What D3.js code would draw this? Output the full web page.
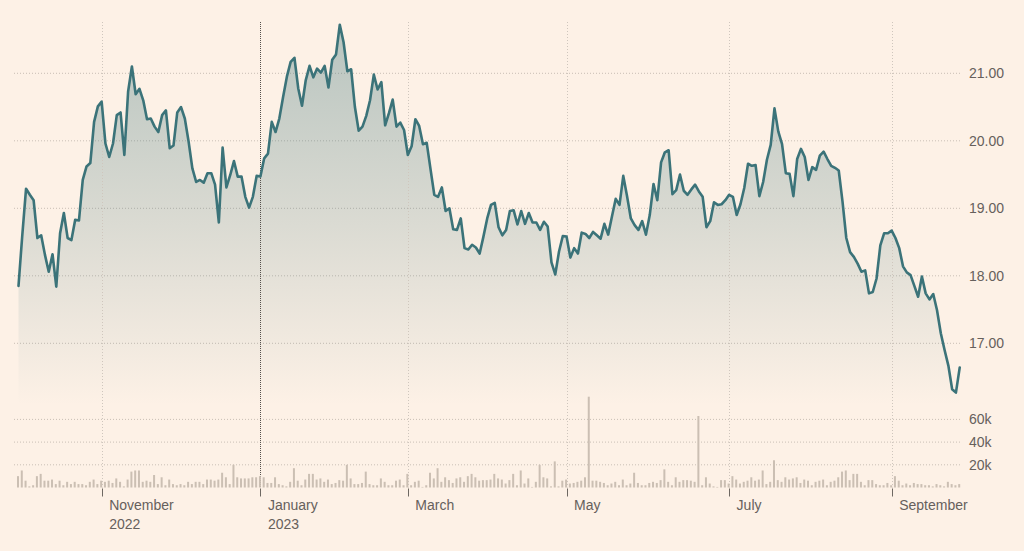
<!DOCTYPE html>
<html>
<head>
<meta charset="utf-8">
<script src="https://cdn.jsdelivr.net/npm/d3@7"></script>
<style>
  html, body { margin: 0; padding: 0; background: #fdf1e6; }
  svg { display: block; }
  text { font-family: "Liberation Sans", Arial, Helvetica, sans-serif; }
</style>
</head>
<body>
<svg id="chart" width="1024" height="551"></svg>
<script>
// ---------- DATA ----------
const startDate = "2022-09-30";
const endDate = "2023-09-28";
const holidays = ["2022-11-24","2022-12-26","2023-01-02","2023-01-16","2023-02-20",
                  "2023-04-07","2023-05-29","2023-06-19","2023-07-04","2023-09-04"];

const prices = [
 17.85,18.60,19.29,19.20,19.12,18.56,18.60,18.31,18.06,18.32,
 17.84,18.63,18.93,18.56,18.53,18.83,18.82,19.42,19.62,19.67,
 20.28,20.51,20.58,19.96,19.76,19.96,20.38,20.42,19.79,20.73,
 21.10,20.69,20.77,20.60,20.32,20.33,20.21,20.13,20.38,20.45,
 19.89,19.93,20.42,20.50,20.33,19.99,19.59,19.39,19.42,19.38,
 19.52,19.52,19.35,18.79,19.90,19.31,19.49,19.70,19.47,19.47,
 19.17,19.01,19.17,19.48,19.47,19.74,19.81,20.28,20.13,20.33,
 20.65,20.95,21.17,21.23,20.78,20.52,20.90,21.11,20.94,21.07,
 21.01,21.11,20.79,21.20,21.28,21.72,21.46,21.03,21.06,20.50,
 20.15,20.21,20.37,20.60,20.98,20.76,20.87,20.23,20.41,20.61,
 20.21,20.27,20.16,19.79,19.92,20.32,20.22,19.95,19.97,19.58,
 19.20,19.17,19.31,18.96,19.00,18.69,18.68,18.85,18.41,18.39,
 18.46,18.42,18.33,18.58,18.85,19.05,19.08,18.72,18.60,18.68,
 18.96,18.97,18.76,18.96,18.77,18.93,18.79,18.79,18.68,18.80,
 18.73,18.20,18.02,18.36,18.59,18.58,18.27,18.41,18.33,18.64,
 18.62,18.56,18.65,18.60,18.55,18.77,18.61,18.88,19.14,19.05,
 19.48,19.18,18.85,18.75,18.68,18.81,18.61,18.90,19.36,19.12,
 19.68,19.83,19.86,19.21,19.27,19.50,19.26,19.20,19.28,19.35,
 19.25,19.17,18.72,18.81,19.09,19.05,19.06,19.12,19.20,19.17,
 18.90,19.06,19.30,19.66,19.63,19.64,19.18,19.39,19.72,19.94,
 20.48,20.14,19.95,19.52,19.51,19.18,19.73,19.88,19.76,19.42,
 19.61,19.57,19.78,19.84,19.73,19.63,19.60,19.56,19.10,18.56,
 18.35,18.28,18.18,18.06,18.08,17.74,17.76,17.96,18.45,18.63,
 18.63,18.67,18.56,18.41,18.14,18.05,18.01,17.85,17.69,17.99,
 17.74,17.65,17.73,17.49,17.15,16.90,16.67,16.32,16.27,16.64
];

// volume in thousands
const volumes = [
 10,15,6,1,2,10,12,6,6,7,
 3,6,2,5,3,5,3,3,2,5,
 7,3,6,5,6,4,8,5,1,7,
 14,15,15,5,6,5,11,3,9,2,
 7,3,2,3,2,5,3,5,5,3,
 7,7,6,7,13,9,3,20,9,8,
 8,8,9,9,10,9,4,4,9,3,
 2,1,5,17,6,2,7,12,12,7,
 8,5,7,3,4,6.5,6,20,8,3,
 3,4,14,3,2,2,8,5,2,2,
 6,7,2,12,2,5,6,0.5,2,13,
 8,17,5,9,6.5,4,8,9,5,10,
 12,9,6,6.5,6.5,7,12,8,7,3.5,
 6.5,12,2,15,3.5,8,0.5,5,20,9,
 8,1,23,1,6,7,3.5,4,5,6,
 9,80,6,6,5,4,2,3.5,5,2,
 7,2,3.5,13,4,2,2,4,5,4,
 6.5,16,5,2,9,5,6.5,6.5,6,5,
 63,2,9,3.5,1,0.5,6.5,6.5,3.5,10,
 7,3.5,5,6,9,6,7,15,3,5,
 24,6.5,5,9,7,8,9,4,7,6,
 2,5,6,7,2,5,6,9,14,15,
 6.5,12,12,5,2,6.5,6.5,3,2,2,
 4,2,10,6,2,3.5,2,4,3,3,
 2,2,1,3,2,1,5,3,2,3
];

const priceTicks = [17, 18, 19, 20, 21];
const volumeTicks = [20, 40, 60];
const tickMonths = ["2022-11","2023-01","2023-03","2023-05","2023-07","2023-09"];
const monthNames = ["January","February","March","April","May","June","July",
                    "August","September","October","November","December"];

// ---------- BUILD TRADING DAYS ----------
const parse = d3.utcParse("%Y-%m-%d");
const fmtDay = d3.utcFormat("%Y-%m-%d");
const fmtMonth = d3.utcFormat("%Y-%m");
const holidaySet = new Set(holidays);
const days = d3.utcDay.range(parse(startDate), d3.utcDay.offset(parse(endDate), 1))
  .filter(d => d.getUTCDay() !== 0 && d.getUTCDay() !== 6 && !holidaySet.has(fmtDay(d)));

const data = days.map((d, i) => ({ date: d, i, price: prices[i], vol: volumes[i] }));

// ---------- LAYOUT ----------
const svg = d3.select("#chart");
const W = 1024, H = 551;
const gridLeft = 14, gridRight = 962, gridTop = 22;
const volBase = 487.5;
const areaBottom = 405;

const x = d3.scaleLinear().domain([0, data.length - 1]).range([18.5, 959.7]);
const y = d3.scaleLinear().domain([17, 21]).range([343.3, 73.3]);
const yv = d3.scaleLinear().domain([0, 60]).range([volBase, 419.4]);

svg.append("rect").attr("width", W).attr("height", H).attr("fill", "#fdf1e6");

// gradient
const defs = svg.append("defs");
const grad = defs.append("linearGradient").attr("id", "areaGrad")
  .attr("gradientUnits", "userSpaceOnUse")
  .attr("x1", 0).attr("x2", 0).attr("y1", 20).attr("y2", areaBottom);
grad.append("stop").attr("offset", "0%").attr("stop-color", "#3b7379").attr("stop-opacity", 0.36);
grad.append("stop").attr("offset", "55%").attr("stop-color", "#3b7379").attr("stop-opacity", 0.17);
grad.append("stop").attr("offset", "100%").attr("stop-color", "#3b7379").attr("stop-opacity", 0);

// horizontal gridlines (price)
const gridColor = "#c9bfb5";
svg.append("g").selectAll("line").data(priceTicks).join("line")
  .attr("x1", gridLeft).attr("x2", gridRight)
  .attr("y1", d => y(d)).attr("y2", d => y(d))
  .attr("stroke", gridColor).attr("stroke-width", 1).attr("stroke-dasharray", "1,2");

// horizontal gridlines (volume)
svg.append("g").selectAll("line").data(volumeTicks).join("line")
  .attr("x1", gridLeft).attr("x2", gridRight)
  .attr("y1", d => yv(d)).attr("y2", d => yv(d))
  .attr("stroke", gridColor).attr("stroke-width", 1).attr("stroke-dasharray", "1,2");

// month ticks
const tickData = tickMonths.map(m => data.find(d => fmtMonth(d.date) === m));

// area
const area = d3.area().x(d => x(d.i)).y0(areaBottom).y1(d => y(d.price));
svg.append("path").datum(data).attr("d", area).attr("fill", "url(#areaGrad)");

// vertical gridlines
svg.append("g").selectAll("line").data(tickData).join("line")
  .attr("x1", d => Math.round(x(d.i)) + 0.5).attr("x2", d => Math.round(x(d.i)) + 0.5)
  .attr("y1", gridTop).attr("y2", volBase)
  .attr("stroke", d => d.date.getUTCMonth() === 0 ? "#55504c" : "#cfc6bd")
  .attr("stroke-width", 1)
  .attr("stroke-dasharray", d => d.date.getUTCMonth() === 0 ? "1,1" : "1,2");

// volume bars
svg.append("g").selectAll("rect").data(data).join("rect")
  .attr("x", d => x(d.i) - 1.5).attr("width", 2)
  .attr("y", d => yv(d.vol)).attr("height", d => volBase - yv(d.vol))
  .attr("fill", "#cbbfb3");

// price line
const line = d3.line().x(d => x(d.i)).y(d => y(d.price));
svg.append("path").datum(data).attr("d", line)
  .attr("fill", "none").attr("stroke", "#3b7379").attr("stroke-width", 2.6)
  .attr("stroke-linejoin", "round").attr("stroke-linecap", "round");

// x axis ticks & labels
const xg = svg.append("g");
xg.selectAll("line").data(tickData).join("line")
  .attr("x1", d => Math.round(x(d.i)) + 0.5).attr("x2", d => Math.round(x(d.i)) + 0.5)
  .attr("y1", volBase + 1).attr("y2", volBase + 9)
  .attr("stroke", "#6e6862").attr("stroke-width", 1);
const labelColor = "#66605c";
const fontSize = 14;
tickData.forEach((d, k) => {
  xg.append("text")
    .attr("x", x(d.i) + 7.5).attr("y", 510)
    .attr("fill", labelColor).attr("font-size", fontSize)
    .text(monthNames[d.date.getUTCMonth()]);
  const prev = k > 0 ? tickData[k - 1].date.getUTCFullYear() : null;
  if (k === 0 || prev !== d.date.getUTCFullYear()) {
    xg.append("text")
      .attr("x", x(d.i) + 7.5).attr("y", 529)
      .attr("fill", labelColor).attr("font-size", fontSize)
      .text(d.date.getUTCFullYear());
  }
});

// right axis labels
svg.append("g").selectAll("text").data(priceTicks).join("text")
  .attr("x", 969).attr("y", d => y(d)).attr("dy", "0.35em")
  .attr("fill", labelColor).attr("font-size", fontSize)
  .text(d => d3.format(".2f")(d));
svg.append("g").selectAll("text").data(volumeTicks).join("text")
  .attr("x", 969).attr("y", d => yv(d)).attr("dy", "0.35em")
  .attr("fill", labelColor).attr("font-size", fontSize)
  .text(d => d + "k");
</script>
</body>
</html>
